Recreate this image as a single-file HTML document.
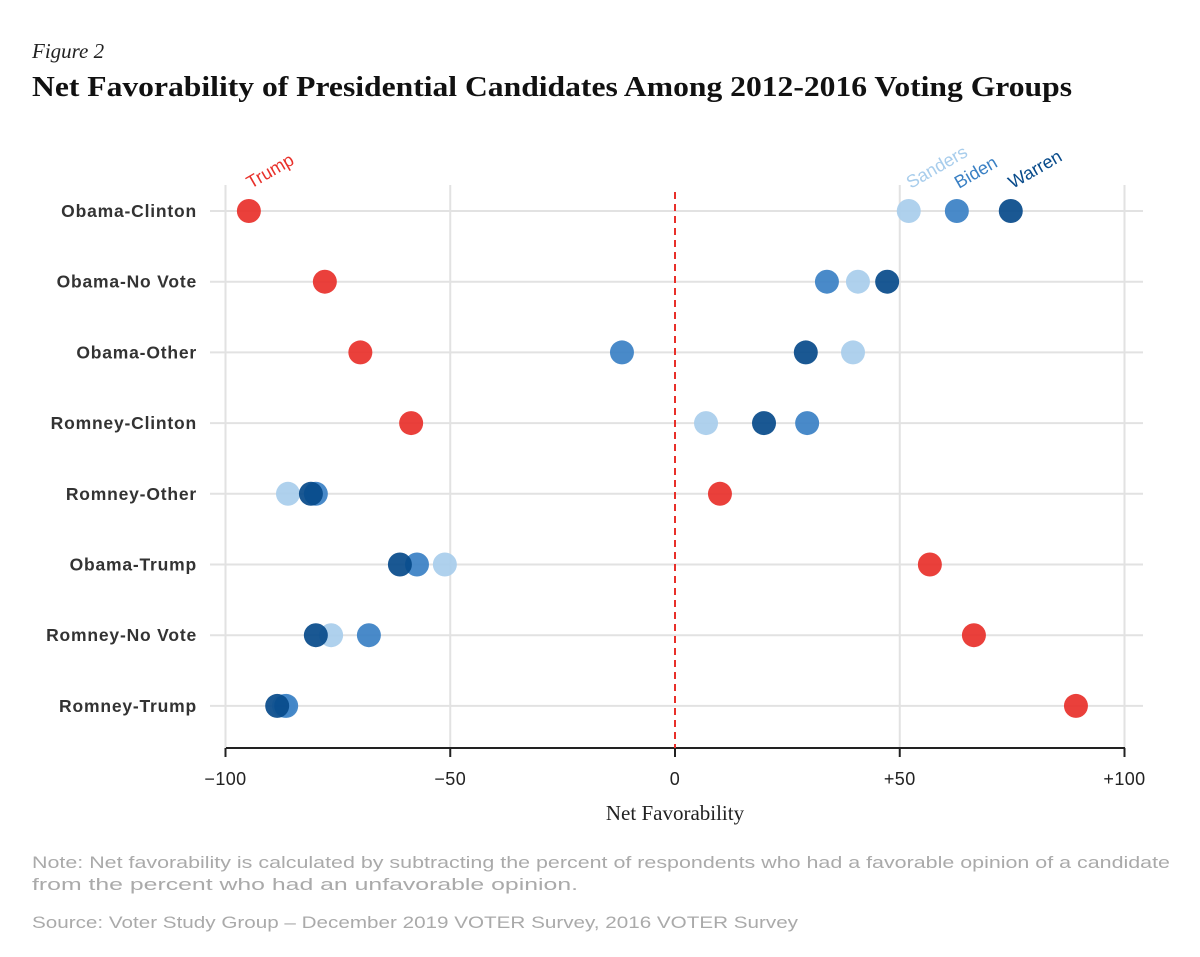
<!DOCTYPE html>
<html><head><meta charset="utf-8"><style>
body{margin:0;background:#fff;width:1200px;height:957px;overflow:hidden;font-family:"Liberation Sans",sans-serif}
svg{position:absolute;left:0;top:0}
</style></head><body>
<svg width="1200" height="957">
<text x="32" y="58" font-family="Liberation Serif" font-style="italic" font-size="21" fill="#222">Figure 2</text>
<text x="32" y="96" font-family="Liberation Serif" font-weight="bold" font-size="29" fill="#111" textLength="1040" lengthAdjust="spacingAndGlyphs">Net Favorability of Presidential Candidates Among 2012-2016 Voting Groups</text>
<g id="plot"></g>
<text x="675" y="820" text-anchor="middle" font-family="Liberation Serif" font-size="21" fill="#222">Net Favorability</text>
<text x="32" y="868" font-size="17" fill="#aaa" textLength="1138" lengthAdjust="spacingAndGlyphs">Note: Net favorability is calculated by subtracting the percent of respondents who had a favorable opinion of a candidate</text>
<text x="32" y="890" font-size="17" fill="#aaa" textLength="546" lengthAdjust="spacingAndGlyphs">from the percent who had an unfavorable opinion.</text>
<text x="32" y="928" font-size="17" fill="#aaa" textLength="766" lengthAdjust="spacingAndGlyphs">Source: Voter Study Group – December 2019 VOTER Survey, 2016 VOTER Survey</text>
</svg>
<script>
const groups=["Obama-Clinton","Obama-No Vote","Obama-Other","Romney-Clinton","Romney-Other","Obama-Trump","Romney-No Vote","Romney-Trump"];
const trump=[-94.8,-77.9,-70,-58.7,10,56.7,66.5,89.2];
const sanders=[52,40.7,39.6,6.9,-86.1,-51.2,-76.5,-87];
const biden=[62.7,33.8,-11.8,29.4,-79.9,-57.4,-68.1,-86.5];
const warren=[74.7,47.2,29.1,19.8,-81,-61.2,-79.9,-88.5];
const ticks=[-100,-50,0,50,100];
const tickLabels=["−100","−50","0","+50","+100"];
const NS="http://www.w3.org/2000/svg";
const g=document.getElementById('plot');
const X=v=>675+v*4.495;
const Y=i=>211+i*70.7;
function mk(t,a,txt){const e=document.createElementNS(NS,t);for(const k in a)e.setAttribute(k,a[k]);if(txt!=null)e.textContent=txt;g.appendChild(e);return e;}
ticks.forEach((t,i)=>{
 if(t!==0){const l=mk('line',{x1:X(t),x2:X(t),y1:185,y2:748,stroke:'#e2e2e2','stroke-width':2});
 
 }
 const tk=mk('line',{x1:X(t),x2:X(t),y1:748,y2:757,stroke:'#222','stroke-width':2});
 
 
 const tl=mk('text',{x:X(t),y:785,'text-anchor':'middle','font-size':18,'letter-spacing':0.4,fill:'#222'},tickLabels[i]);
 
 
});
groups.forEach((n,i)=>{
 const l=mk('line',{x1:210,x2:1143,y1:Y(i),y2:Y(i),stroke:'#e2e2e2','stroke-width':2});
 
 
 const t=mk('text',{x:197,y:Y(i)+6,'text-anchor':'end','font-size':17.5,'letter-spacing':0.8,'font-weight':'bold',fill:'#333'},n);
 
 
});
const ax=mk('line',{x1:226,x2:1125,y1:748,y2:748,stroke:'#222','stroke-width':2});


const z=mk('line',{x1:X(0),x2:X(0),y1:192,y2:748,stroke:'#e8302a','stroke-width':2,'stroke-dasharray':'7,5'});


const series=[[sanders,'#a8cdec','sanders'],[biden,'#3a80c4','biden'],[warren,'#074a8a','warren'],[trump,'#e8302a','trump']];
series.forEach(([arr,c,nm])=>arr.forEach((v,i)=>{
 const d=mk('circle',{cx:X(v),cy:Y(i),r:12,fill:c,'fill-opacity':0.92});
 
 
}));
[['Trump',trump,'#e8302a'],['Sanders',sanders,'#a8cdec'],['Biden',biden,'#3a80c4'],['Warren',warren,'#074a8a']].forEach(([n,arr,c])=>{
 const x=X(arr[0])+2,y=Y(0)-22;
 const t=mk('text',{x:x,y:y,'font-size':18,fill:c,transform:`rotate(-30 ${x} ${y})`},n);
 
 
});
</script>
</body></html>
